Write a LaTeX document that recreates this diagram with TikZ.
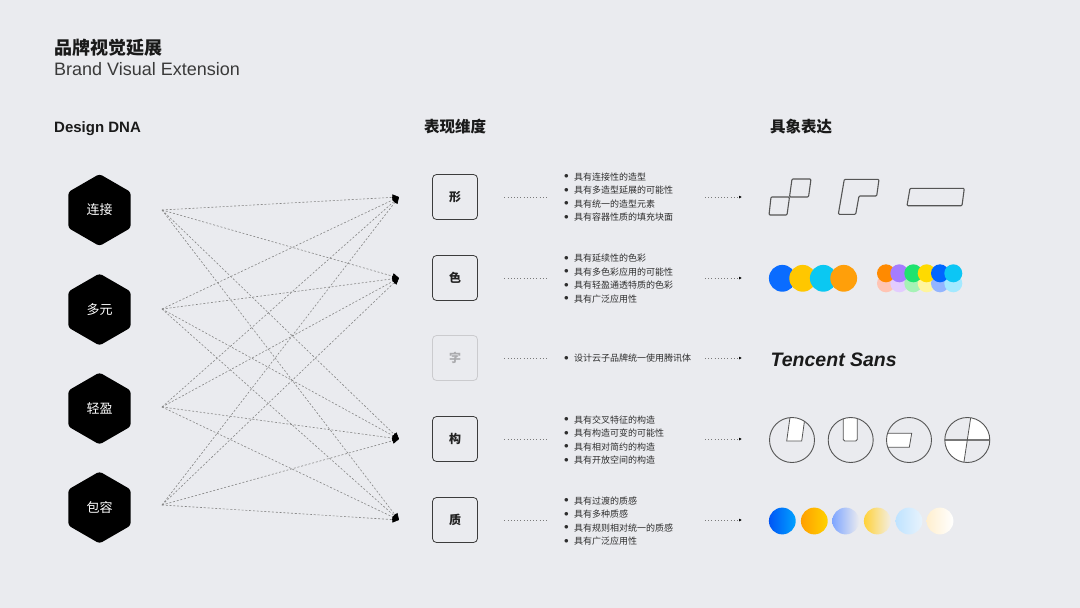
\documentclass[tikz,border=0pt]{standalone}
\usepackage{fontspec}
\setmainfont{Noto Sans CJK SC}
\newfontfamily\latin{Liberation Sans}
\usetikzlibrary{positioning,shapes.geometric,arrows.meta}
\definecolor{bgc}{HTML}{EAEBEF}
\definecolor{ttlc}{HTML}{1A1A1A}
\definecolor{subc}{HTML}{3A3A3A}
\definecolor{txtc}{HTML}{222222}
\definecolor{lstc}{HTML}{2E2E2E}
\definecolor{boxc}{HTML}{3C3C3C}
\definecolor{fadec}{HTML}{CBCBCE}
\definecolor{fadetc}{HTML}{ABABAE}
\definecolor{linkc}{HTML}{858585}
\definecolor{dotc}{HTML}{7A7A7A}
\definecolor{shpc}{HTML}{555555}
\definecolor{crossc}{HTML}{777777}
% colour dots
\definecolor{cblue}{HTML}{0A6CFF}
\definecolor{cyellow}{HTML}{FFC700}
\definecolor{ccyan}{HTML}{0BC8F2}
\definecolor{corange}{HTML}{FF9F0A}
\definecolor{dorange}{HTML}{FF8A00}
\definecolor{dpurple}{HTML}{A57CFF}
\definecolor{dgreen}{HTML}{1EE36F}
\definecolor{dyellow}{HTML}{FFDA00}
\definecolor{dblue}{HTML}{0066FF}
\definecolor{dcyan}{HTML}{0CC6F5}
\definecolor{lorange}{HTML}{FFC4B3}
\definecolor{lpurple}{HTML}{E3CCFF}
\definecolor{lgreen}{HTML}{A6F2B6}
\definecolor{lyellow}{HTML}{FFF59D}
\definecolor{lblue}{HTML}{93B5FF}
\definecolor{lcyan}{HTML}{A3E9FF}
% texture dots
\definecolor{tblueA}{HTML}{0055F5}
\definecolor{tblueB}{HTML}{00A2FF}
\definecolor{torangeA}{HTML}{FF9F00}
\definecolor{torangeB}{HTML}{FFD200}
\definecolor{tskyA}{HTML}{7FA6FF}
\definecolor{tgoldA}{HTML}{FFD23A}
\definecolor{tgoldB}{HTML}{F3EEE2}
\definecolor{ticeA}{HTML}{BFE3FF}
\definecolor{ticeB}{HTML}{E8F3FC}
\definecolor{tcreamA}{HTML}{FFEFCF}
\newcommand\itm[1]{\makebox[10pt][l]{\raisebox{1.2pt}{$\bullet$}}#1}

\begin{document}
\begin{tikzpicture}[x=1pt,y=-1pt,
  dna/.style={regular polygon, regular polygon sides=6, shape border rotate=30,
    minimum size=72pt, inner sep=0pt, fill=black, rounded corners=3pt,
    text=white, font=\fontsize{13}{13}\selectfont},
  dim/.style={draw=boxc, rounded corners=4pt, minimum size=45pt, inner sep=0pt,
    line width=0.8pt, text=txtc, font=\fontsize{12}{12}\selectfont\bfseries},
  lst/.style={anchor=west, align=left, inner sep=0pt, text=lstc,
    font=\fontsize{9}{13.5}\selectfont},
  link/.style={draw=linkc, line width=0.6pt, dash pattern=on 2pt off 1.8pt,
    -{Triangle[length=6.5pt,width=6pt,color=black]}},
  dotline/.style={draw=dotc, line width=0.8pt, dash pattern=on 1pt off 2.2pt,
    shorten <=26.5pt, shorten >=16pt},
  ptr/.style={draw=dotc, line width=0.8pt, dash pattern=on 1pt off 2.2pt,
    -{Latex[length=3pt,width=3pt,color=black]}},
  shp/.style={draw=shpc, line width=1.1pt, rounded corners=1pt, line join=round},
  ring/.style={draw=shpc, line width=0.9pt}
]
\fill[bgc] (0,0) rectangle (1080,608);
\useasboundingbox (0,0) rectangle (1080,608);

% headings
\node[anchor=west, inner sep=0pt, text=ttlc, font=\fontsize{18}{18}\selectfont\bfseries] (title) at (54,47.5) {品牌视觉延展};
\node[anchor=base west, inner sep=0pt, text=subc, font=\latin\fontsize{18}{18}\selectfont] (subtitle) at (54,75) {Brand Visual Extension};
\node[anchor=base west, inner sep=0pt, text=ttlc, font=\latin\fontsize{15}{15}\selectfont\bfseries] (hdna) at (54,132.5) {Design DNA};
\node[anchor=west, inner sep=0pt, text=ttlc, font=\fontsize{15.5}{15.5}\selectfont\bfseries] (hdim) at (424,127) {表现维度};
\node[anchor=west, inner sep=0pt, text=ttlc, font=\fontsize{15.5}{15.5}\selectfont\bfseries] (hexp) at (770,127) {具象表达};

% design dna
\node[dna] (lian) at (99.5,210) {连接};
\node[dna] (duo) at (99.5,309.5) {多元};
\node[dna] (qing) at (99.5,408.5) {轻盈};
\node[dna] (bao) at (99.5,507.5) {包容};

\coordinate (lianout) at (162,210);
\coordinate (duoout) at (162,309);
\coordinate (qingout) at (162,407);
\coordinate (baoout) at (162,505);
\coordinate (xingin) at (399,197);
\coordinate (sein) at (399,278);
\coordinate (gouin) at (399,439);
\coordinate (zhiin) at (399,520);

\foreach \a in {lianout,duoout,qingout,baoout}
  \foreach \b in {xingin,sein,gouin,zhiin}
    \draw[link] (\a) -- (\b);

% dimensions
\node[dim] (xing) at (455,197) {形};
\node[dim] (se) at (455,278) {色};
\node[dim, draw=fadec, text=fadetc] (zi) at (455,358) {字};
\node[dim] (gou) at (455,439) {构};
\node[dim] (zhi) at (455,520) {质};

\node[lst] (xingtxt) at (564,197) {\itm{具有连接性的造型}\\ \itm{具有多造型延展的可能性}\\ \itm{具有统一的造型元素}\\ \itm{具有容器性质的填充块面}};
\node[lst] (setxt) at (564,278.5) {\itm{具有延续性的色彩}\\ \itm{具有多色彩应用的可能性}\\ \itm{具有轻盈通透特质的色彩}\\ \itm{具有广泛应用性}};
\node[lst] (zitxt) at (564,358) {\itm{设计云子品牌统一使用腾讯体}};
\node[lst] (goutxt) at (564,440) {\itm{具有交叉特征的构造}\\ \itm{具有构造可变的可能性}\\ \itm{具有相对简约的构造}\\ \itm{具有开放空间的构造}};
\node[lst] (zhitxt) at (564,521) {\itm{具有过渡的质感}\\ \itm{具有多种质感}\\ \itm{具有规则相对统一的质感}\\ \itm{具有广泛应用性}};

\draw[dotline] (xing.east) -- (xing.east -| xingtxt.west);
\draw[dotline] (se.east) -- (se.east -| setxt.west);
\draw[dotline] (zi.east) -- (zi.east -| zitxt.west);
\draw[dotline] (gou.east) -- (gou.east -| goutxt.west);
\draw[dotline] (zhi.east) -- (zhi.east -| zhitxt.west);

\coordinate (xingpic) at (742,197);
\coordinate (sepic) at (742,278);
\coordinate (zipic) at (742,358);
\coordinate (goupic) at (742,439);
\coordinate (zhipic) at (742,520);
\draw[ptr] ([xshift=-37pt]xingpic) -- (xingpic);
\draw[ptr] ([xshift=-37pt]sepic) -- (sepic);
\draw[ptr] ([xshift=-37pt]zipic) -- (zipic);
\draw[ptr] ([xshift=-37pt]goupic) -- (goupic);
\draw[ptr] ([xshift=-37pt]zhipic) -- (zhipic);

% shape
\draw[shp] (771,197) -- (789.5,197) -- (787,215) -- (769,215) -- cycle;
\draw[shp] (792,179) -- (811,179) -- (808.5,197) -- (789.5,197) -- cycle;
\draw[shp] (844.3,179.3) -- (879,179.3) -- (876.7,196) -- (859,196) -- (855.7,214.3) -- (838.3,214.3) -- cycle;
\draw[shp] (910,188.3) -- (964.3,188.3) -- (962,205.7) -- (907,205.7) -- cycle;

% colour
\fill[cblue] (782.3,278.3) circle (13.4pt);
\fill[cyellow] (802.7,278.3) circle (13.4pt);
\fill[ccyan] (823.3,278.3) circle (13.4pt);
\fill[corange] (843.7,278.3) circle (13.4pt);
\fill[lorange] (886,283.3) circle (9pt);
\fill[lpurple] (899.3,283.3) circle (9pt);
\fill[lgreen] (913.3,283.3) circle (9pt);
\fill[lyellow] (926.7,283.3) circle (9pt);
\fill[lblue] (940,283.3) circle (9pt);
\fill[lcyan] (953.3,283.3) circle (9pt);
\fill[dorange] (886,273.3) circle (9pt);
\fill[dpurple] (899.3,273.3) circle (9pt);
\fill[dgreen] (913.3,273.3) circle (9pt);
\fill[dyellow] (926.7,273.3) circle (9pt);
\fill[dblue] (940,273.3) circle (9pt);
\fill[dcyan] (953.3,273.3) circle (9pt);

% type
\node[anchor=base west, inner sep=0pt, text=ttlc, font=\latin\fontsize{19.5}{19.5}\selectfont\bfseries\itshape] (brand) at (770.5,366) {Tencent Sans};

% structure
\begin{scope}
  \clip (792,440) circle (22.5pt);
  \filldraw[fill=white, draw=shpc, line width=0.8pt] (786.7,441) -- (801.7,441) -- (806,410) -- (791,410) -- cycle;
\end{scope}
\draw[ring] (792,440) circle (22.5pt);
\begin{scope}
  \clip (850.7,440) circle (22.5pt);
  \filldraw[fill=white, draw=shpc, line width=0.8pt, rounded corners=1.5pt] (843.3,410) -- (843.3,441) -- (857.3,441) -- (857.3,410);
\end{scope}
\draw[ring] (850.7,440) circle (22.5pt);
\begin{scope}
  \clip (909,440) circle (22.5pt);
  \filldraw[fill=white, draw=shpc, line width=0.8pt] (880,433.3) -- (911.7,433.3) -- (909.3,447.3) -- (880,447.3) -- cycle;
\end{scope}
\draw[ring] (909,440) circle (22.5pt);
\begin{scope}
  \clip (967.3,440) circle (22.5pt);
  \fill[white] (967.3,440) -- (973.4,400) -- (1000,400) -- (1000,440) -- cycle;
  \fill[white] (967.3,440) -- (961.2,480) -- (930,480) -- (930,440) -- cycle;
  \draw[crossc, line width=1.2pt] (940,440) -- (995,440);
  \draw[shpc, line width=0.8pt] (973.4,400) -- (961.2,480);
\end{scope}
\draw[ring] (967.3,440) circle (22.5pt);

% texture
\shade[left color=tblueA, right color=tblueB] (782.3,521) circle (13.4pt);
\shade[left color=torangeA, right color=torangeB] (814.3,521) circle (13.4pt);
\shade[left color=tskyA, right color=bgc] (845.7,521) circle (13.4pt);
\shade[left color=tgoldA, right color=tgoldB] (877.3,521) circle (13.4pt);
\shade[left color=ticeA, right color=ticeB] (909,521) circle (13.4pt);
\shade[left color=tcreamA, right color=white] (940,521) circle (13.4pt);
\end{tikzpicture}
\end{document}
